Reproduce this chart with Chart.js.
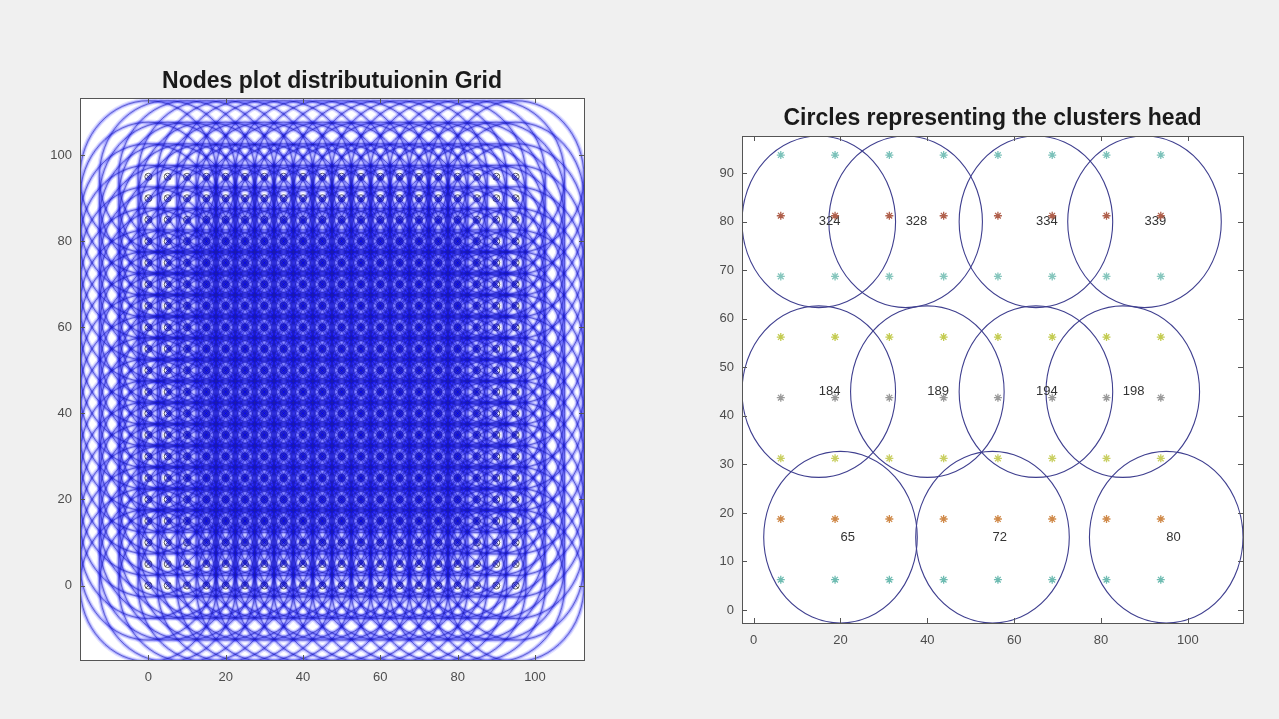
<!DOCTYPE html>
<html>
<head>
<meta charset="utf-8">
<title>Grid nodes and cluster heads</title>
<script src="https://cdn.jsdelivr.net/npm/chart.js@4.4.1/dist/chart.umd.min.js"></script>
<style>
  html, body { margin: 0; padding: 0; background: #f0f0f0; width: 1279px; height: 719px; overflow: hidden; }
  .pane { position: absolute; top: 0; }
  #gridPane { left: 0; width: 664px; height: 719px; }
  #headPane { left: 706px; width: 573px; height: 719px; }
</style>
</head>
<body>
<div class="pane" id="gridPane"><canvas id="gridChart" width="664" height="719"></canvas></div>
<div class="pane" id="headPane"><canvas id="headChart" width="573" height="719"></canvas></div>
<script>
// ---- sensor nodes laid out on a 20 x 20 grid ----
const nodeX = [0, 5, 10, 15, 20, 25, 30, 35, 40, 45, 50, 55, 60, 65, 70, 75, 80, 85, 90, 95];
const nodeY = [0, 5, 10, 15, 20, 25, 30, 35, 40, 45, 50, 55, 60, 65, 70, 75, 80, 85, 90, 95];
const nodeRange = 17.68;
const gridTicks = [0, 20, 40, 60, 80, 100];
const gridXLimits = [-17.68, 112.68];
const gridYLimits = [-17.3, 113.3];

// ---- cluster members (8 x 8) ----
const memberX = [6.25, 18.75, 31.25, 43.75, 56.25, 68.75, 81.25, 93.75];
const memberY = [6.25, 18.75, 31.25, 43.75, 56.25, 68.75, 81.25, 93.75];
const memberRowColors = ['#6fbcb2', '#d08a4a', '#c9cf62', '#9a9a9a', '#c4cc52', '#86c6bd', '#b0604c', '#7cc2ba'];

// ---- cluster heads (node id, position) ----
const headId = [324, 328, 334, 339, 184, 189, 194, 198, 65, 72, 80];
const headX = [15, 35, 65, 90, 15, 40, 65, 85, 20, 55, 95];
const headY = [80, 80, 80, 80, 45, 45, 45, 45, 15, 15, 15];
const headRange = 17.68;
const headXTicks = [0, 20, 40, 60, 80, 100];
const headYTicks = [0, 10, 20, 30, 40, 50, 60, 70, 80, 90];
const headXLimits = [-2.68, 112.68];
const headYLimits = [-2.68, 97.68];

const FONT = "Arial, 'Liberation Sans', Helvetica, sans-serif";
Chart.defaults.font.family = FONT;
Chart.defaults.animation = false;

// white plot area, box outline and inward tick marks on all four sides
const axesBox = {
  id: 'axesBox',
  beforeDraw(chart) {
    const a = chart.chartArea, ctx = chart.ctx;
    ctx.save();
    ctx.fillStyle = '#ffffff';
    ctx.fillRect(a.left, a.top, a.right - a.left, a.bottom - a.top);
    ctx.restore();
  },
  afterDraw(chart) {
    const a = chart.chartArea, ctx = chart.ctx;
    const xs = chart.scales.x, ys = chart.scales.y;
    const len = 5;
    ctx.save();
    ctx.strokeStyle = '#555555';
    ctx.lineWidth = 1;
    ctx.beginPath();
    xs.ticks.forEach(t => {
      const px = Math.round(xs.getPixelForValue(t.value)) + 0.5;
      ctx.moveTo(px, a.bottom); ctx.lineTo(px, a.bottom - len);
      ctx.moveTo(px, a.top); ctx.lineTo(px, a.top + len);
    });
    ys.ticks.forEach(t => {
      const py = Math.round(ys.getPixelForValue(t.value)) + 0.5;
      ctx.moveTo(a.left, py); ctx.lineTo(a.left + len, py);
      ctx.moveTo(a.right, py); ctx.lineTo(a.right - len, py);
    });
    ctx.stroke();
    ctx.strokeRect(Math.round(a.left) + 0.5, Math.round(a.top) + 0.5,
                   Math.round(a.right - a.left), Math.round(a.bottom - a.top));
    ctx.restore();
  }
};

// range circles around given centres, drawn through the chart scales;
// each pass is [strokeStyle, lineWidth]; `onTop` draws them over the markers
function rangeCircles(id, cxs, cys, r, passes, labels, onTop) {
  const draw = chart => {
    const a = chart.chartArea, ctx = chart.ctx;
    const xs = chart.scales.x, ys = chart.scales.y;
    ctx.save();
    ctx.beginPath();
    ctx.rect(a.left, a.top, a.right - a.left, a.bottom - a.top);
    ctx.clip();
    passes.forEach(([style, width]) => {
      ctx.strokeStyle = style;
      ctx.lineWidth = width;
      for (let i = 0; i < cxs.length; i++) {
        const px = xs.getPixelForValue(cxs[i]);
        const py = ys.getPixelForValue(cys[i]);
        const rx = Math.abs(xs.getPixelForValue(cxs[i] + r) - px);
        const ry = Math.abs(ys.getPixelForValue(cys[i] + r) - py);
        ctx.beginPath();
        ctx.ellipse(px, py, rx, ry, 0, 0, Math.PI * 2);
        ctx.stroke();
      }
    });
    if (labels) {
      ctx.fillStyle = '#333333';
      ctx.font = '13px ' + FONT;
      ctx.textAlign = 'left';
      ctx.textBaseline = 'middle';
      for (let i = 0; i < cxs.length; i++) {
        ctx.fillText(String(labels[i]), xs.getPixelForValue(cxs[i]), ys.getPixelForValue(cys[i]));
      }
    }
    ctx.restore();
  };
  return onTop ? { id, afterDatasetsDraw: draw } : { id, beforeDatasetsDraw: draw };
}

function fixedTicks(values) {
  return scale => { scale.ticks = values.map(v => ({ value: v })); };
}

function axisOptions(limits, ticks, size, isX) {
  return {
    type: 'linear',
    min: limits[0],
    max: limits[1],
    grid: { display: false, drawTicks: false },
    border: { display: false },
    afterBuildTicks: fixedTicks(ticks),
    afterFit: s => { if (isX) s.height = size; else s.width = size; },
    ticks: {
      color: '#4d4d4d',
      font: { size: 13, family: FONT },
      padding: isX ? 10 : 8,
      maxRotation: 0,
      autoSkip: false,
      callback: v => String(v)
    }
  };
}

// ---- left: every node with its range circle ----
const nodeCentresX = [], nodeCentresY = [], nodePoints = [];
nodeY.forEach(y => nodeX.forEach(x => {
  nodeCentresX.push(x); nodeCentresY.push(y); nodePoints.push({ x, y });
}));

new Chart(document.getElementById('gridChart'), {
  type: 'scatter',
  data: {
    datasets: [{
      data: nodePoints,
      pointStyle: 'circle',
      pointRadius: 3.5,
      borderColor: 'rgba(70,70,70,0.85)',
      backgroundColor: 'rgba(0,0,0,0)',
      borderWidth: 1
    }, {
      data: nodePoints,
      pointStyle: 'crossRot',
      pointRadius: 3.5,
      borderColor: 'rgba(50,50,50,0.85)',
      backgroundColor: 'rgba(50,50,50,0.85)',
      borderWidth: 1
    }]
  },
  options: {
    responsive: false,
    devicePixelRatio: 1,
    layout: { padding: { left: 0, right: 80, top: 0, bottom: 19 } },
    plugins: {
      legend: { display: false },
      tooltip: { enabled: false },
      title: {
        display: true,
        fullSize: false,
        text: 'Nodes plot distributuionin Grid',
        color: '#1a1a1a',
        font: { size: 23, weight: 'bold', family: FONT },
        padding: { top: 68, bottom: 2.4 }
      }
    },
    scales: {
      x: axisOptions(gridXLimits, gridTicks, 40, true),
      y: axisOptions(gridYLimits, gridTicks, 80, false)
    }
  },
  plugins: [axesBox, rangeCircles('nodeRanges', nodeCentresX, nodeCentresY, nodeRange,
    [['rgba(0,0,255,0.11)', 5.5], ['rgba(0,0,255,0.24)', 3], ['rgba(30,30,170,0.55)', 1]], null, true)]
});

// ---- right: cluster members and the heads' coverage circles ----
const memberSets = memberY.map((y, r) => ({
  data: memberX.map(x => ({ x, y })),
  pointStyle: 'star',
  pointRadius: 4,
  borderWidth: 1.3,
  borderColor: memberRowColors[r],
  backgroundColor: memberRowColors[r]
}));

new Chart(document.getElementById('headChart'), {
  type: 'scatter',
  data: { datasets: memberSets },
  options: {
    responsive: false,
    devicePixelRatio: 1,
    layout: { padding: { left: 0, right: 36, top: 0, bottom: 56 } },
    plugins: {
      legend: { display: false },
      tooltip: { enabled: false },
      title: {
        display: true,
        fullSize: false,
        text: 'Circles representing the clusters head',
        color: '#1a1a1a',
        font: { size: 23, weight: 'bold', family: FONT },
        padding: { top: 105, bottom: 3.4 }
      }
    },
    scales: {
      x: axisOptions(headXLimits, headXTicks, 40, true),
      y: axisOptions(headYLimits, headYTicks, 36, false)
    }
  },
  plugins: [axesBox, rangeCircles('headRanges', headX, headY, headRange, [['#3f3f8f', 1.1]], headId, false)]
});
</script>
</body>
</html>
